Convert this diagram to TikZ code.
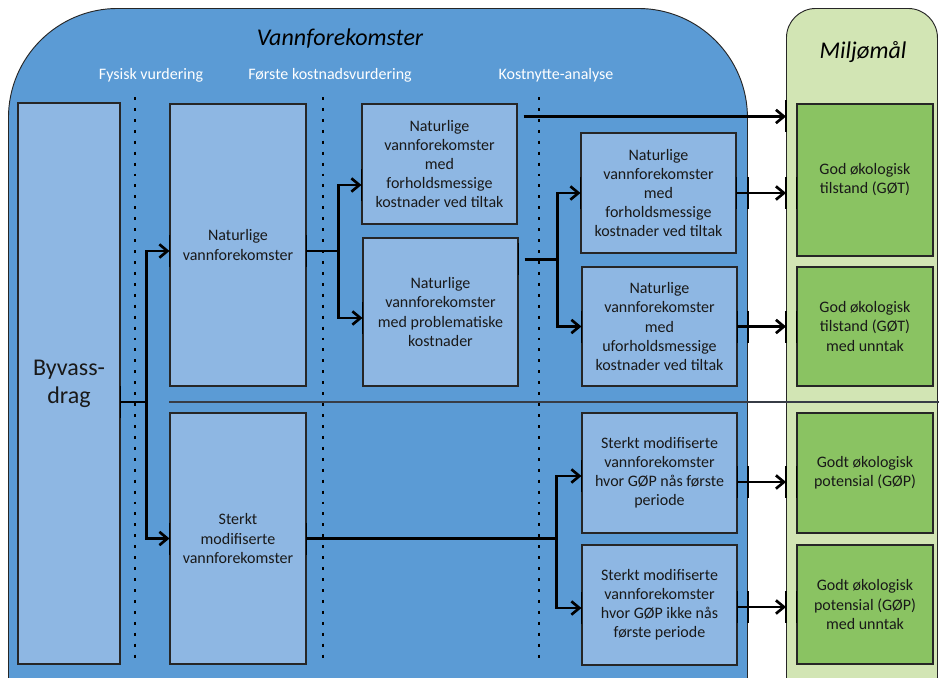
\documentclass[tikz,border=0pt]{standalone}
\usepackage{fontspec}
\setmainfont{Carlito}
\usetikzlibrary{arrows.meta,calc,shadows}
\definecolor{regblue}{RGB}{91,155,213}
\definecolor{boxblue}{RGB}{142,183,227}
\definecolor{reggreen}{RGB}{210,229,180}
\definecolor{boxgreen}{RGB}{138,195,98}
\definecolor{txt}{RGB}{25,25,25}
\definecolor{sepgray}{RGB}{55,60,70}
\tikzset{
  box/.style={draw=black!85, line width=0.8pt, fill=boxblue, align=center,
    font=\fontsize{12}{14.3}\selectfont, text=txt, inner sep=2pt,
    drop shadow={opacity=0.3, shadow xshift=1pt, shadow yshift=-1pt}},
  gbox/.style={box, fill=boxgreen},
  region/.style={draw=black!85, line width=0.7pt, anchor=north west, inner sep=0pt},
  conn/.style={line width=2pt, black},
  arr/.style={conn, -{Straight Barb[length=6pt,width=10pt]}},
  dotline/.style={line width=2.2pt, dash pattern=on 2.2pt off 6pt, black},
  hdr/.style={text=white, font=\fontsize{12}{14}\selectfont},
  ttl/.style={text=black, font=\fontsize{18}{21}\selectfont\itshape},
  tickm/.style={line width=1.3pt, black},
  sepline/.style={line width=0.8pt, sepgray}
}
\newcommand\etick[1]{\draw[tickm] ($(#1)+(0,-16)$) -- ($(#1)+(0,16)$);}
\begin{document}
\begin{tikzpicture}[x=0.75pt, y=-0.75pt]
\useasboundingbox (0,0) rectangle (939,678);
\clip (0,0) rectangle (939,678);
% regions
\node[region, fill=regblue, rounded corners=82pt, minimum width=554.25pt, minimum height=600pt] (vf) at (8,8) {};
\node[region, fill=reggreen, rounded corners=22pt, minimum width=113.25pt, minimum height=600pt] (mil) at (786,8) {};
% separator
\coordinate (sepL) at (169,402);
\coordinate (sepR) at (939,402);
\draw[sepline] (sepL) -- (sepR);
% dotted lines
\coordinate (d1t) at (135,97); \coordinate (d1b) at (135,662);
\coordinate (d2t) at (323,97); \coordinate (d2b) at (323,662);
\coordinate (d3t) at (539,97); \coordinate (d3b) at (539,662);
\draw[dotline] (d1t) -- (d1b);
\draw[dotline] (d2t) -- (d2b);
\draw[dotline] (d3t) -- (d3b);
% titles and headers
\node[ttl] (t1) at (340,39) {Vannforekomster};
\node[ttl] (t2) at (863,52) {Miljømål};
\node[hdr] (h1) at (151,75) {Fysisk vurdering};
\node[hdr] (h2) at (330,75) {Første kostnadsvurdering};
\node[hdr] (h3) at (556,75) {Kostnytte-analyse};
% boxes
\node[box, minimum width=76.5pt, minimum height=420.75pt, font=\fontsize{18}{21}\selectfont] (byv) at (69,383.5) {Byvass-\\drag};
\node[box, minimum width=102pt, minimum height=211.5pt] (nat) at (238,245) {Naturlige\\vannforekomster};
\node[box, minimum width=102pt, minimum height=188.25pt] (sm) at (238,538.5) {Sterkt\\modifiserte\\vannforekomster};
\node[box, minimum width=116.25pt, minimum height=90pt] (nf1) at (439.5,164) {Naturlige\\vannforekomster\\med\\forholdsmessige\\kostnader ved tiltak};
\node[box, minimum width=116.25pt, minimum height=111pt] (nf2) at (440.5,312) {Naturlige\\vannforekomster\\med problematiske\\kostnader};
\node[box, minimum width=116.25pt, minimum height=90pt] (nf3) at (658.5,193) {Naturlige\\vannforekomster\\med\\forholdsmessige\\kostnader ved tiltak};
\node[box, minimum width=116.25pt, minimum height=89.25pt] (nf4) at (659.5,326.5) {Naturlige\\vannforekomster\\med\\uforholdsmessige\\kostnader ved tiltak};
\node[box, minimum width=116.25pt, minimum height=90pt] (sm1) at (659.5,473) {Sterkt modifiserte\\vannforekomster\\hvor GØP nås første\\periode};
\node[box, minimum width=116.25pt, minimum height=90pt] (sm2) at (659.5,605) {Sterkt modifiserte\\vannforekomster\\hvor GØP ikke nås\\første periode};
\node[gbox, minimum width=102pt, minimum height=114pt] (g1) at (865,180) {God økologisk\\tilstand (GØT)};
\node[gbox, minimum width=102pt, minimum height=89.25pt] (g2) at (865,326.5) {God økologisk\\tilstand (GØT)\\med unntak};
\node[gbox, minimum width=102pt, minimum height=90pt] (g3) at (865,473) {Godt økologisk\\potensial (GØP)};
\node[gbox, minimum width=102pt, minimum height=89.25pt] (g4) at (865,604.5) {Godt økologisk\\potensial (GØP)\\med unntak};
% connection points
\coordinate (byvE) at (byv.east |- sepL);
\coordinate (b1) at ($(byvE)+(26,0)$);
\coordinate (natW) at ($(nat.west)+(0,6)$);
\coordinate (natE) at ($(nat.east)+(0,6)$);
\coordinate (b2) at ($(natE)+(32,0)$);
\coordinate (nf1W) at ($(nf1.west)+(0,21)$);
\coordinate (nf2W) at ($(nf2.west)+(0,6)$);
\coordinate (nf1s) at ($(nf1.north east)+(6,13)$);
\coordinate (nf2s) at ($(nf2.north east)+(6,22)$);
\coordinate (b3) at ($(nf2s)+(33,0)$);
\coordinate (b4) at ($(sm.east)+(250,0)$);
\coordinate (sm1W) at ($(sm1.west)+(0,3)$);
\coordinate (sm2W) at ($(sm2.west)+(0,3)$);
\coordinate (sm1E) at ($(sm1.east)+(0,9)$);
\coordinate (sm2E) at ($(sm2.east)+(0,2)$);
% connectors
\draw[conn] (byvE) -- (b1);
\draw[arr] (b1) |- (natW);
\draw[arr] (b1) |- (sm.west);
\draw[conn] (natE) -- (b2);
\draw[arr] (b2) |- (nf1W);
\draw[arr] (b2) |- (nf2W);
\draw[arr] (nf1s) -- (mil.west |- nf1s);
\draw[conn] (nf2s) -- (b3);
\draw[arr] (b3) |- (nf3.west);
\draw[arr] (b3) |- (nf4.west);
\draw[conn] (sm.east) -- (b4);
\draw[arr] (b4) |- (sm1W);
\draw[arr] (b4) |- (sm2W);
\draw[arr] (nf3.east) -- (mil.west |- nf3.east);
\draw[arr] (nf4.east) -- (mil.west |- nf4.east);
\draw[arr] (sm1E) -- (mil.west |- sm1E);
\draw[arr] (sm2E) -- (mil.west |- sm2E);
% edge ticks
\etick{byvE} \etick{natW} \etick{sm.west} \etick{natE} \etick{nf1W} \etick{nf2W}
\etick{nf2.east |- nf2s} \etick{nf3.west} \etick{nf4.west} \etick{sm1W} \etick{sm2W}
\etick{sm.east} \etick{mil.west |- nf1s}
\foreach \s/\g in {nf3.east/g1, nf4.east/g2, sm1E/g3, sm2E/g4}{
  \etick{\s}
  \etick{vf.east |- \s}
  \etick{mil.west |- \s}
  \etick{\g.west |- \s}
}
\end{tikzpicture}
\end{document}
